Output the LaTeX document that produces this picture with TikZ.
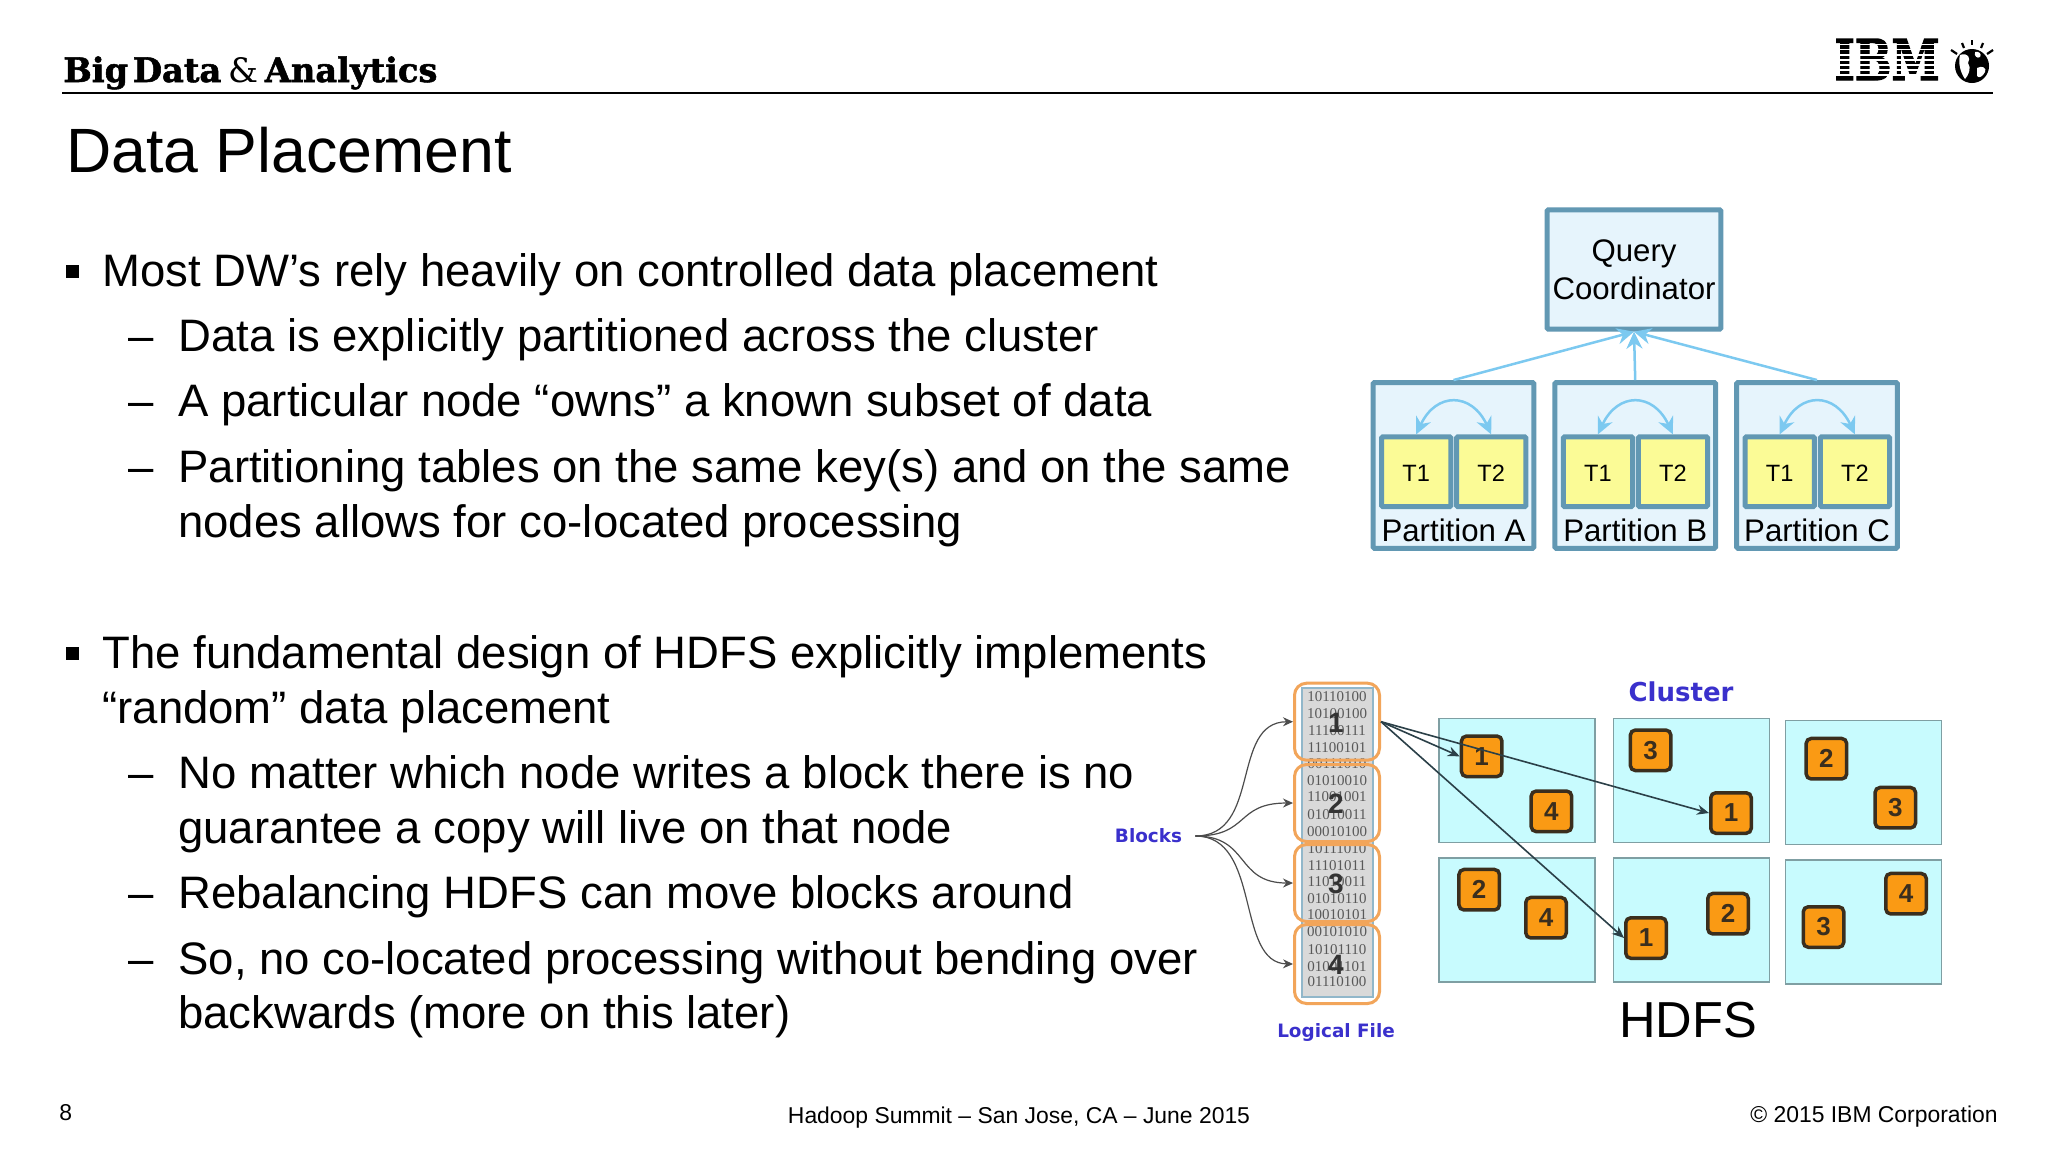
\documentclass[tikz,border=0pt]{standalone}
\usepackage{fontspec}
\setmainfont{Liberation Sans}
\newfontfamily\slabfont[BoldFeatures={FakeBold=1.6}]{DejaVu Serif}
\newfontfamily\ibmfont[BoldFeatures={FakeBold=2.5}]{DejaVu Serif}
\newfontfamily\verdfont{DejaVu Sans}
\newfontfamily\binfont{Liberation Serif}
\usetikzlibrary{arrows.meta}
\definecolor{steel}{HTML}{6298B3}
\definecolor{pale}{HTML}{E6F4FC}
\definecolor{yel}{HTML}{FBFB96}
\definecolor{sky}{HTML}{7CC9F0}
\definecolor{cyanbox}{HTML}{C8FBFE}
\definecolor{cyanline}{HTML}{7F9FA3}
\definecolor{orng}{HTML}{FA9A14}
\definecolor{blk}{HTML}{3A2E1E}
\definecolor{lfo}{HTML}{F2A55A}
\definecolor{labblue}{HTML}{3A30CC}
\definecolor{darkline}{HTML}{2B4048}
\tikzset{
  body/.style={anchor=base west,inner sep=0pt,font=\fontsize{22.75}{27}\selectfont},
  bulletmark/.style={fill=black,inner sep=0pt,minimum width=6.5pt,minimum height=6.5pt},
  foot/.style={inner sep=0pt,font=\fontsize{11.45}{14}\selectfont},
  qbox/.style={draw=steel,fill=pale,line width=2.5pt,minimum width=86.9pt,minimum height=59.7pt,inner sep=0pt,align=center,rounded corners=0.6pt,font=\fontsize{15.6}{19}\selectfont},
  partbox/.style={draw=steel,fill=pale,line width=2.5pt,minimum width=80.35pt,minimum height=82.85pt,inner sep=0pt,rounded corners=0.6pt},
  tbox/.style={draw=steel,fill=yel,line width=2.5pt,minimum width=34.65pt,minimum height=34.85pt,inner sep=0pt,rounded corners=0.6pt,text height=9.5pt,text depth=0pt,font=\fontsize{11.8}{14}\selectfont},
  partlab/.style={inner sep=0pt,font=\fontsize{15.6}{18}\selectfont},
  uparrow/.style={draw=sky,line width=1.25pt,-{Stealth[length=8.5pt,width=8pt]}},
  swaparrow/.style={draw=sky,line width=1.25pt,{Stealth[length=8.5pt,width=8pt]}-{Stealth[length=8.5pt,width=8pt]},out=65,in=115,looseness=1.6},
  hostbox/.style={draw=cyanline,fill=cyanbox,line width=0.8pt,inner sep=0pt,minimum width=78pt,minimum height=62pt},
  chunk/.style={draw=blk,fill=orng,line width=1.75pt,rounded corners=2.5pt,minimum width=20.25pt,minimum height=20.25pt,inner sep=0pt,text=blk,font=\fontsize{13}{15}\selectfont\bfseries},
  lfchunk/.style={draw=lfo,line width=1.5pt,rounded corners=6pt,minimum width=42.5pt,inner sep=0pt},
  bigno/.style={inner sep=0pt,text=black!80,font=\fontsize{14}{16}\selectfont\bfseries},
  bin/.style={inner sep=0pt,text=black!65,font=\binfont\fontsize{7.5}{9}\selectfont},
  lab/.style={inner sep=0pt,text=labblue,font=\verdfont\bfseries\fontsize{9.2}{11}\selectfont},
  fan/.style={draw=black!70,line width=0.6pt,-{Stealth[length=5pt,width=4.5pt]}},
  placearrow/.style={draw=darkline,line width=0.8pt,-{Stealth[length=6pt,width=5pt]}}
}
\begin{document}
\begin{tikzpicture}[x=0.5pt,y=-0.5pt]
\useasboundingbox (0,0) rectangle (2048,1153);
\fill[white] (0,0) rectangle (2048,1153);

% header
\node[anchor=base west,inner sep=0pt] (brand) at (63,82) {\resizebox{187pt}{!}{\slabfont\bfseries Big\hspace{.14em}Data\hspace{.2em}{\mdseries\&}\hspace{.2em}Analytics}};
\coordinate (ruleL) at (62,92.5);
\coordinate (ruleR) at (1993,92.5);
\draw[line width=1pt] (ruleL) -- (ruleR);
\node[inner sep=0pt] (ibm) at (1887,59.5) {\resizebox{52.5pt}{20.5pt}{\ibmfont\bfseries IBM}};
\foreach \yy in {43.6,48.7,53.8,58.9,64,69.1,74.2}
  \fill[white] (1832,\yy) rectangle (1943,\yy+1.7);
\fill[black] (1972,66) circle (17);
\fill[white] (1960,55) .. controls (1968,52) and (1971,58) .. (1968,63) .. controls (1972,68) and (1968,76) .. (1965,79) .. controls (1960,72) and (1958,62) .. (1960,55) -- cycle;
\fill[white] (1977,68) .. controls (1982,65) and (1987,68) .. (1985,72) .. controls (1983,76) and (1979,79) .. (1977,76) -- cycle;
\fill[white] (1975,52) .. controls (1979,51) and (1982,54) .. (1980,57) .. controls (1977,59) and (1974,56) .. (1975,52) -- cycle;
\foreach \ax/\ay/\bx/\by in {1951/50/1957/54, 1962/43/1964/48, 1972/40/1972/45, 1983/43/1981/48, 1993/50/1987/54}
  \draw[line width=1.1pt] (\ax,\ay) -- (\bx,\by);

% title
\node[anchor=base west,inner sep=0pt,font=\fontsize{31.3}{38}\selectfont] (title) at (66,172) {Data Placement};

% body
\node[bulletmark] (m1) at (72,271) {};
\node[body] (l1) at (102,286) {Most DW’s rely heavily on controlled data placement};
\node[body] (d1) at (128,351) {–};
\node[body] (l2) at (178,351) {Data is explicitly partitioned across the cluster};
\node[body] (d2) at (128,416) {–};
\node[body] (l3) at (178,416) {A particular node “owns” a known subset of data};
\node[body] (d3) at (128,482) {–};
\node[body] (l4) at (178,482) {Partitioning tables on the same key(s) and on the same};
\node[body] (l5) at (178,537) {nodes allows for co-located processing};
\node[bulletmark] (m2) at (72,653) {};
\node[body] (l6) at (102,668) {The fundamental design of HDFS explicitly implements};
\node[body] (l7) at (102,723) {“random” data placement};
\node[body] (d4) at (128,788) {–};
\node[body] (l8) at (178,788) {No matter which node writes a block there is no};
\node[body] (l9) at (178,843) {guarantee a copy will live on that node};
\node[body] (d5) at (128,908) {–};
\node[body] (l10) at (178,908) {Rebalancing HDFS can move blocks around};
\node[body] (d6) at (128,974) {–};
\node[body] (l11) at (178,974) {So, no co-located processing without bending over};
\node[body] (l12) at (178,1028.5) {backwards (more on this later)};

% footer
\node[foot,anchor=base west] (pg) at (59,1120) {8};
\node[foot,anchor=base] (conf) at (1019,1123) {Hadoop Summit – San Jose, CA – June 2015};
\node[foot,anchor=base east] (copy) at (1998,1122) {© 2015 IBM Corporation};

% query coordinator
\node[qbox] (qc) at (1634,269.5) {Query\\Coordinator};
\node[partbox] (pa) at (1453.5,465.4) {};
\node[partbox] (pb) at (1635.2,465.4) {};
\node[partbox] (pc) at (1817,465.4) {};
\node[tbox] (a1) at (1416.2,471.7) {T1};
\node[tbox] (a2) at (1491.2,471.7) {T2};
\node[tbox] (b1) at (1597.9,471.7) {T1};
\node[tbox] (b2) at (1672.9,471.7) {T2};
\node[tbox] (c1) at (1779.7,471.7) {T1};
\node[tbox] (c2) at (1854.9,471.7) {T2};
\node[partlab] (la) at (1453.5,530) {Partition A};
\node[partlab] (lb) at (1635.2,530) {Partition B};
\node[partlab] (lc) at (1817,530) {Partition C};
\draw[uparrow] (pa.north) -- (qc.south);
\draw[uparrow] (pc.north) -- (qc.south);
\draw[uparrow] (pb.north) -- (qc.south);
\draw[swaparrow] (a1.north) to (a2.north);
\draw[swaparrow] (b1.north) to (b2.north);
\draw[swaparrow] (c1.north) to (c2.north);

% logical file
\fill[black!15,draw=steel!70,line width=0.8pt] (1301.7,688) rectangle (1373,997);
\foreach \t/\yy in {10110100/697,10100100/714,11100111/731,11100101/748,00111010/764,01010010/781,11001001/797,01010011/815,00010100/832,10111010/849,11101011/866,11010011/882,01010110/899,10010101/915,00101010/932,10101110/950,01001101/967,01110100/982}
  \node[bin] (bits\yy) at (1337,\yy) {\t};
\node[lfchunk,minimum height=38.5pt] (f1) at (1337,721.7) {};
\node[lfchunk,minimum height=38.5pt] (f2) at (1337,803) {};
\node[lfchunk,minimum height=38.5pt] (f3) at (1337,883) {};
\node[lfchunk,minimum height=39.5pt] (f4) at (1337,964) {};
\node[bigno] (n1) at (1336,723) {1};
\node[bigno] (n2) at (1336,804) {2};
\node[bigno] (n3) at (1336,884) {3};
\node[bigno] (n4) at (1336,965) {4};
\node[lab,inner sep=6.5pt] (blocks) at (1148.5,836) {Blocks};
\node[lab] (logical) at (1336,1032) {Logical File};
\draw[fan] (blocks.east) .. controls (1262,836) and (1230,722) .. (f1.west);
\draw[fan] (blocks.east) .. controls (1250,836) and (1235,803) .. (f2.west);
\draw[fan] (blocks.east) .. controls (1250,836) and (1235,883) .. (f3.west);
\draw[fan] (blocks.east) .. controls (1262,836) and (1235,963) .. (f4.west);

% cluster
\node[lab,font=\verdfont\bfseries\fontsize{13}{15}\selectfont] (cluster) at (1681,692) {Cluster};
\node[hostbox] (h1) at (1516.8,780.5) {};
\node[hostbox] (h2) at (1691.6,780.5) {};
\node[hostbox] (h3) at (1863.4,782.5) {};
\node[hostbox] (h4) at (1516.8,919.8) {};
\node[hostbox] (h5) at (1691.6,919.8) {};
\node[hostbox] (h6) at (1863.4,921.7) {};
\node[chunk] (x1) at (1481.7,756.3) {1};
\node[chunk] (x4) at (1551.4,811.3) {4};
\node[chunk] (y3) at (1650.6,750.3) {3};
\node[chunk] (y1) at (1731,813) {1};
\node[chunk] (z2) at (1826.4,758.7) {2};
\node[chunk] (z3) at (1895.3,807.7) {3};
\node[chunk] (u2) at (1479.2,889.7) {2};
\node[chunk] (u4) at (1546,917.7) {4};
\node[chunk] (v1) at (1646,938) {1};
\node[chunk] (v2) at (1728,913.7) {2};
\node[chunk] (w3) at (1823.5,927) {3};
\node[chunk] (w4) at (1906,893.7) {4};
\draw[placearrow] (f1.east) -- (x1.west);
\draw[placearrow] (f1.east) -- (y1.west);
\draw[placearrow] (f1.east) -- (v1.west);
\node[anchor=base,inner sep=0pt,font=\fontsize{25.3}{30}\selectfont] (hdfs) at (1688,1037) {HDFS};
\end{tikzpicture}
\end{document}
